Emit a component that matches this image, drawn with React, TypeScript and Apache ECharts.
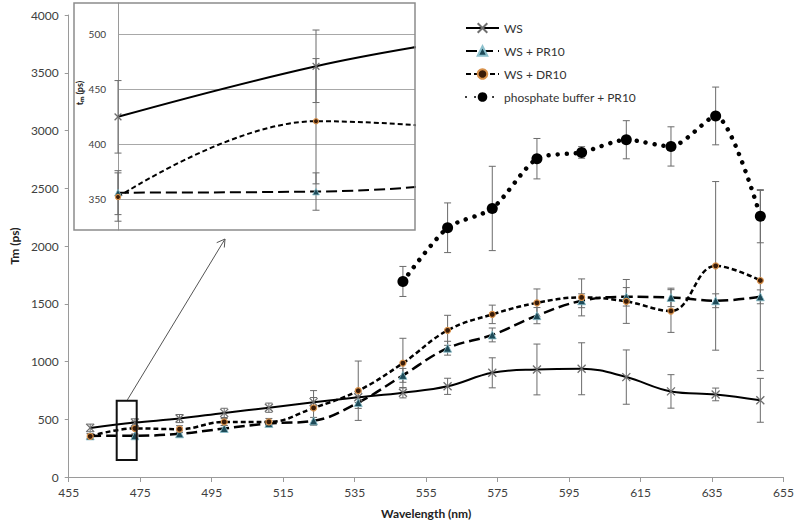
import React, { useEffect, useRef } from "react";
import * as echarts from "echarts";

// ---- data ----
const wavelength = [461, 473.5, 486, 498.5, 511, 523.5, 536, 548.5, 561, 573.5, 586, 598.5, 611, 623.5, 636, 648.5];
const ws = [425, 471, 506, 555, 600, 648, 690, 730, 785, 902, 931, 937, 865, 741, 715, 664];
const wsErr = [33, 33, 35, 40, 40, 40, 45, 45, 70, 130, 220, 225, 235, 145, 55, 190];
const pr10 = [356, 357, 374, 420, 463, 486, 644, 880, 1115, 1230, 1397, 1526, 1560, 1555, 1526, 1560];
const pr10Err = [20, 17, 25, 25, 25, 30, 50, 60, 60, 60, 70, 60, 80, 80, 60, 60];
const dr10 = [352, 421, 414, 477, 477, 598, 747, 986, 1270, 1408, 1508, 1555, 1520, 1437, 1828, 1701];
const dr10Err = [22, 57, 30, 30, 30, 150, 257, 215, 130, 80, 120, 160, 190, 185, 730, 780];
const phosphate = [null, null, null, null, null, null, null, 1693, 2158, 2325, 2756, 2810, 2920, 2862, 3126, 2258];
const phosphateErr = [null, null, null, null, null, null, null, 130, 215, 365, 175, 50, 165, 170, 250, 230];

const seriesNames = ["WS", "WS + PR10", "WS + DR10", "phosphate buffer + PR10"];
const xTicks = [455, 475, 495, 515, 535, 555, 575, 595, 615, 635, 655];
const insetYTicks = [350, 400, 450, 500];

const FONT = "Lato";

function pairs(vals: (number | null)[]) {
  const out: number[][] = [];
  wavelength.forEach((x, i) => {
    if (vals[i] != null) out.push([x, vals[i] as number]);
  });
  return out;
}
function errData(vals: (number | null)[], errs: (number | null)[]) {
  const out: number[][] = [];
  wavelength.forEach((x, i) => {
    if (vals[i] != null && errs[i] != null) {
      out.push([x, (vals[i] as number) - (errs[i] as number), (vals[i] as number) + (errs[i] as number)]);
    }
  });
  return out;
}

function renderErr(params: any, api: any) {
  const x = api.value(0);
  const lo = api.value(1);
  const hi = api.value(2);
  const cs = params.coordSys;
  const pt = api.coord([x, hi]);
  const pb = api.coord([x, lo]);
  if (pt[0] < cs.x - 1 || pt[0] > cs.x + cs.width + 1) return null;
  const clampY = (y: number) => Math.max(cs.y, Math.min(cs.y + cs.height, y));
  const yt = clampY(pt[1]);
  const yb = clampY(pb[1]);
  const cx = pt[0];
  const w = 3.5;
  const st = { stroke: "#6b6b6b", lineWidth: 1 };
  const children: any[] = [{ type: "line", shape: { x1: cx, y1: yt, x2: cx, y2: yb }, style: st }];
  if (pt[1] >= cs.y) children.push({ type: "line", shape: { x1: cx - w, y1: yt, x2: cx + w, y2: yt }, style: st });
  if (pb[1] <= cs.y + cs.height) children.push({ type: "line", shape: { x1: cx - w, y1: yb, x2: cx + w, y2: yb }, style: st });
  return { type: "group", children };
}

const styles = [
  {
    smooth: 0.4,
    symbol: "path://M0,0L10,10M10,0L0,10",
    symbolSize: 8,
    itemStyle: { color: "#888", borderColor: "#6e6e6e", borderWidth: 1.3 },
    lineStyle: { color: "#000", width: 2, type: "solid" as any },
  },
  {
    smooth: 0.4,
    symbol: "triangle",
    symbolSize: 8,
    itemStyle: { color: "#1d4a58", borderColor: "#8cc0cc", borderWidth: 0.8 },
    lineStyle: { color: "#000", width: 2.5, type: [11, 5] as any },
  },
  {
    smooth: 0.4,
    symbol: "circle",
    symbolSize: 6,
    itemStyle: { color: "#3a1c08", borderColor: "#d8914a", borderWidth: 1.2 },
    lineStyle: { color: "#000", width: 2.5, type: [5, 3] as any },
  },
  {
    smooth: 0.25,
    symbol: "circle",
    symbolSize: 11,
    itemStyle: { color: "#000" },
    lineStyle: { color: "#000", width: 4.5, type: [0.01, 9] as any, cap: "round" as any },
  },
];

const allVals = [ws, pr10, dr10, phosphate];
const allErrs = [wsErr, pr10Err, dr10Err, phosphateErr];

export default function App() {
  const ref = useRef<HTMLDivElement>(null);
  useEffect(() => {
    document.body.style.margin = "0";
    if (!ref.current) return;
    const chart = echarts.init(ref.current, undefined, { renderer: "svg" });

    const series: any[] = [];
    // error bars
    [0, 1].forEach((g) => {
      allVals.forEach((vals, k) => {
        series.push({
          type: "custom",
          name: seriesNames[k] + " err" + g,
          xAxisIndex: g,
          yAxisIndex: g,
          renderItem: renderErr,
          encode: { x: 0, y: [1, 2] },
          data: errData(vals, allErrs[k]),
          z: 1,
          silent: true,
        });
      });
    });
    // lines
    [0, 1].forEach((g) => {
      allVals.forEach((vals, k) => {
        const s = styles[k];
        series.push({
          type: "line",
          name: seriesNames[k],
          xAxisIndex: g,
          yAxisIndex: g,
          data: pairs(vals),
          smooth: s.smooth,
          symbol: s.symbol,
          symbolSize: g === 1 ? s.symbolSize * 0.85 : s.symbolSize,
          showSymbol: true,
          itemStyle: s.itemStyle,
          lineStyle: g === 1 ? { ...s.lineStyle, width: Math.min(s.lineStyle.width, 2) } : s.lineStyle,
          clip: true,
          z: 3,
        });
      });
    });

    const option: any = {
      animation: false,
      textStyle: { fontFamily: FONT },
      grid: [
        { left: 58, right: 12, top: 15, bottom: 45 },
        { left: 118, width: 297, top: 3, height: 227 },
      ],
      legend: {
        orient: "vertical",
        left: 460,
        top: 17,
        itemWidth: 33,
        itemHeight: 12,
        itemGap: 11,
        data: seriesNames,
        textStyle: { fontFamily: FONT, fontSize: 12, color: "#333" },
        selectedMode: false,
      },
      xAxis: [
        {
          type: "value",
          gridIndex: 0,
          min: 455,
          max: 655,
          name: "Wavelength (nm)",
          nameLocation: "middle",
          nameGap: 30,
          nameTextStyle: { fontFamily: FONT, fontWeight: "bold", fontSize: 12, color: "#222" },
          axisLine: { show: true, lineStyle: { color: "#9a9a9a" } },
          axisTick: { show: true, length: 5, customValues: xTicks, lineStyle: { color: "#9a9a9a" } },
          axisLabel: { customValues: xTicks, fontSize: 12, color: "#404040", margin: 9, formatter: (v: number) => String(v) },
          splitLine: { show: false },
        },
        {
          type: "value",
          gridIndex: 1,
          min: 461,
          max: 479.75,
          show: false,
          splitLine: { show: false },
        },
      ],
      yAxis: [
        {
          type: "value",
          gridIndex: 0,
          min: 0,
          max: 4000,
          interval: 500,
          name: "Tm (ps)",
          nameLocation: "middle",
          nameGap: 46,
          nameTextStyle: { fontFamily: FONT, fontWeight: "bold", fontSize: 12, color: "#222" },
          axisLine: { show: true, lineStyle: { color: "#9a9a9a" } },
          axisTick: { show: true, length: 4, lineStyle: { color: "#9a9a9a" } },
          axisLabel: { fontSize: 12, color: "#404040", margin: 10, formatter: (v: number) => String(v) },
          splitLine: { show: false },
        },
        {
          type: "value",
          gridIndex: 1,
          min: 322,
          max: 528.6,
          axisLine: { show: true, lineStyle: { color: "#9a9a9a" } },
          axisTick: { show: false, customValues: insetYTicks },
          axisLabel: { customValues: insetYTicks, fontSize: 10, color: "#404040", margin: 12, formatter: (v: number) => String(v) },
          splitLine: { show: true, lineStyle: { color: "#a8a8a8", width: 1 } },
        },
      ],
      graphic: [
        {
          type: "rect",
          z: -10,
          shape: { x: 74, y: 3, width: 341, height: 227 },
          style: { fill: "#fff", stroke: "none" },
        },
        {
          type: "rect",
          z: 50,
          shape: { x: 74, y: 3, width: 341, height: 227 },
          style: { fill: "none", stroke: "#8c8c8c", lineWidth: 1.5 },
        },
        {
          type: "text",
          z: 50,
          x: 79,
          y: 93,
          rotation: Math.PI / 2,
          style: {
            text: "t\u2098 (ps)",
            fontSize: 9,
            fontWeight: "bold",
            fontFamily: FONT,
            fill: "#222",
            align: "center",
            verticalAlign: "middle",
          },
        },
        {
          type: "rect",
          z: 50,
          shape: { x: 116.7, y: 400.7, width: 20, height: 59.3 },
          style: { fill: "none", stroke: "#111", lineWidth: 2 },
        },
        {
          type: "line",
          z: 50,
          shape: { x1: 127.3, y1: 400, x2: 225, y2: 239 },
          style: { stroke: "#555", lineWidth: 1 },
        },
        {
          type: "polyline",
          z: 50,
          shape: { points: [[216.7, 242.7], [225, 239], [224.3, 247.5]] },
          style: { stroke: "#555", lineWidth: 1, fill: "none" },
        },
      ],
      series,
    };
    chart.setOption(option);
    return () => chart.dispose();
  }, []);
  return <div ref={ref} style={{ width: 797, height: 524 }} />;
}
